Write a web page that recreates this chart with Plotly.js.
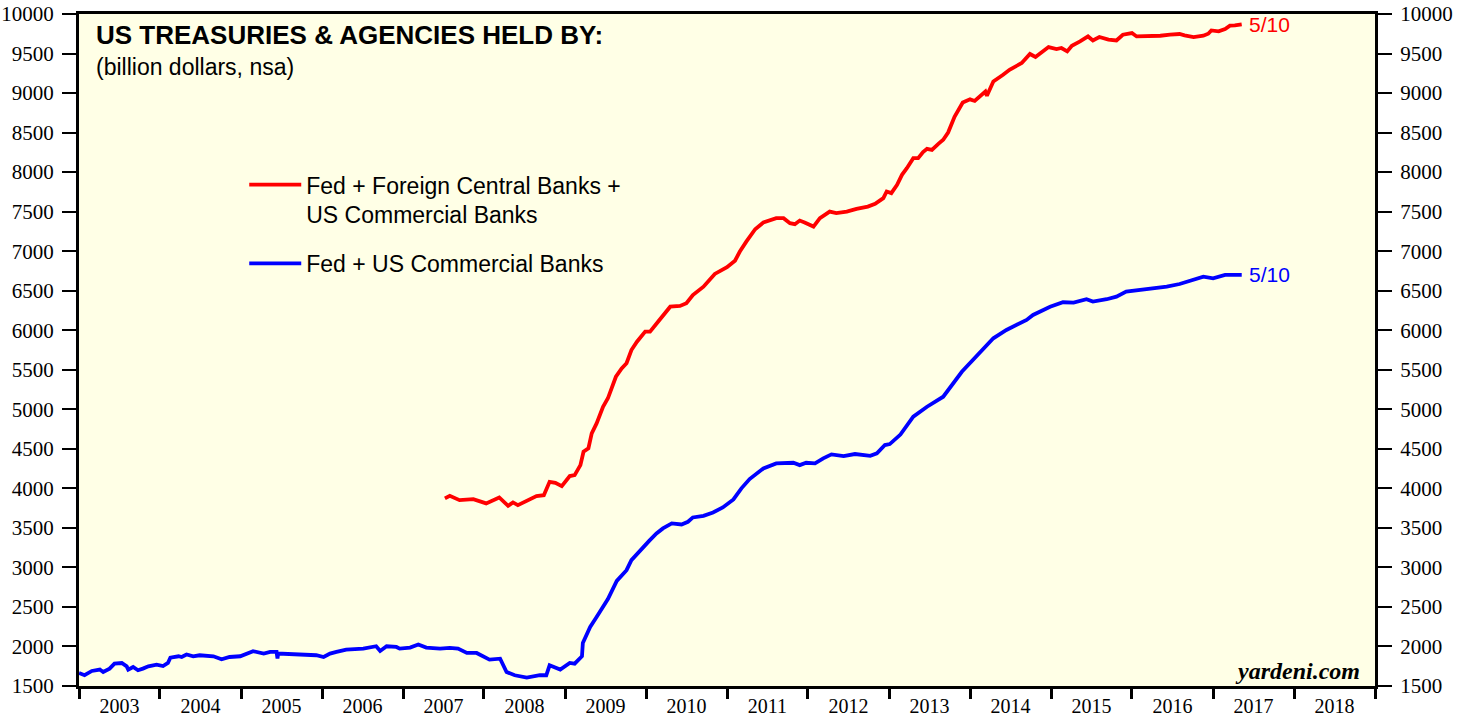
<!DOCTYPE html>
<html>
<head>
<meta charset="utf-8">
<script src="https://cdn.plot.ly/plotly-3.0.1.min.js"></script>
<style>html,body{margin:0;padding:0;background:#fff;}#chart{width:1468px;height:715px;}</style>
</head>
<body>
<div id="chart"></div>
<script>
// Decimal-year time stamps and values (billion dollars)
const redYears = [2007.52,2007.58,2007.70,2007.87,2008.03,2008.19,2008.30,2008.36,2008.42,2008.53,2008.65,2008.74,2008.81,2008.88,2008.96,2009.06,2009.12,2009.19,2009.23,2009.29,2009.33,2009.39,2009.47,2009.53,2009.63,2009.70,2009.76,2009.82,2009.89,2009.99,2010.05,2010.15,2010.30,2010.42,2010.50,2010.58,2010.71,2010.85,2011.00,2011.10,2011.16,2011.24,2011.35,2011.45,2011.61,2011.70,2011.78,2011.84,2011.90,2011.96,2012.07,2012.15,2012.27,2012.35,2012.48,2012.60,2012.74,2012.83,2012.93,2012.97,2013.03,2013.10,2013.16,2013.22,2013.30,2013.36,2013.42,2013.47,2013.53,2013.61,2013.67,2013.73,2013.81,2013.91,2014.00,2014.06,2014.12,2014.19,2014.21,2014.29,2014.41,2014.49,2014.64,2014.74,2014.81,2014.97,2015.07,2015.13,2015.20,2015.26,2015.36,2015.46,2015.52,2015.60,2015.71,2015.81,2015.89,2016.00,2016.06,2016.18,2016.35,2016.47,2016.59,2016.65,2016.76,2016.88,2016.94,2016.98,2017.07,2017.15,2017.21,2017.27,2017.356];
const redValues = [3873,3905,3851,3864,3810,3885,3779,3822,3788,3842,3902,3914,4083,4070,4028,4155,4167,4294,4463,4505,4695,4822,5032,5139,5412,5518,5582,5750,5855,5982,5982,6108,6298,6307,6341,6446,6551,6712,6797,6880,6995,7121,7278,7362,7417,7417,7354,7341,7387,7362,7311,7417,7501,7481,7501,7535,7564,7598,7671,7755,7734,7839,7966,8050,8177,8177,8253,8295,8282,8358,8409,8501,8700,8880,8920,8900,8949,9020,8966,9147,9232,9295,9380,9494,9456,9582,9557,9570,9527,9599,9653,9716,9666,9709,9675,9666,9738,9759,9716,9716,9725,9738,9747,9729,9709,9725,9751,9792,9780,9810,9852,9856,9869];

const blueYears = [2003.00,2003.07,2003.16,2003.26,2003.30,2003.38,2003.44,2003.53,2003.59,2003.61,2003.67,2003.73,2003.79,2003.86,2003.96,2004.04,2004.10,2004.13,2004.23,2004.27,2004.33,2004.41,2004.49,2004.66,2004.76,2004.86,2004.99,2005.15,2005.28,2005.36,2005.44,2005.45,2005.46,2005.65,2005.81,2005.93,2006.02,2006.10,2006.18,2006.30,2006.51,2006.67,2006.72,2006.80,2006.92,2006.96,2007.09,2007.19,2007.29,2007.46,2007.58,2007.68,2007.79,2007.91,2008.07,2008.20,2008.28,2008.38,2008.53,2008.69,2008.77,2008.81,2008.94,2009.06,2009.12,2009.21,2009.22,2009.31,2009.39,2009.47,2009.53,2009.64,2009.76,2009.82,2009.95,2010.04,2010.13,2010.21,2010.32,2010.44,2010.52,2010.58,2010.71,2010.83,2010.95,2011.08,2011.18,2011.28,2011.45,2011.61,2011.82,2011.90,2011.98,2012.09,2012.19,2012.29,2012.44,2012.58,2012.77,2012.85,2012.95,2013.01,2013.14,2013.30,2013.47,2013.67,2013.90,2014.00,2014.12,2014.29,2014.45,2014.58,2014.70,2014.78,2014.99,2015.15,2015.28,2015.44,2015.52,2015.69,2015.81,2015.93,2016.10,2016.26,2016.43,2016.59,2016.76,2016.88,2017.00,2017.15,2017.356];
const blueValues = [1664,1636,1690,1708,1677,1720,1783,1791,1749,1708,1741,1699,1720,1749,1771,1753,1791,1859,1876,1867,1898,1876,1889,1876,1838,1867,1876,1940,1910,1931,1931,1847,1910,1898,1898,1889,1867,1910,1931,1961,1973,2003,1943,2003,1994,1973,1986,2024,1986,1973,1981,1973,1918,1918,1833,1846,1677,1636,1606,1636,1636,1762,1708,1791,1783,1876,2045,2247,2374,2500,2600,2830,2965,3092,3240,3335,3429,3493,3556,3543,3577,3632,3653,3695,3759,3860,4000,4117,4252,4316,4324,4294,4324,4316,4379,4430,4408,4434,4412,4442,4548,4560,4680,4906,5032,5159,5475,5582,5708,5898,6003,6066,6130,6193,6298,6354,6349,6392,6362,6392,6425,6488,6510,6531,6551,6585,6636,6678,6657,6699,6699];

const seriesNames = ["Fed + Foreign Central Banks +<br>US Commercial Banks", "Fed + US Commercial Banks"];
const endLabel = "5/10";
const yTicks = [1500,2000,2500,3000,3500,4000,4500,5000,5500,6000,6500,7000,7500,8000,8500,9000,9500,10000];

function toDate(t){
  const y = Math.floor(t);
  const s = Date.UTC(y,0,1), e = Date.UTC(y+1,0,1);
  return new Date(s + (t-y)*(e-s)).toISOString().slice(0,10);
}
const redX = redYears.map(toDate);
const blueX = blueYears.map(toDate);

const serif = "Liberation Serif, Times New Roman, serif";
const sans = "Liberation Sans, Arial, Helvetica, sans-serif";

const traces = [
  {x: redX, y: redValues, type: "scatter", mode: "lines", name: seriesNames[0],
   line: {color: "#ff0000", width: 3.8}, legendgroup: "a", xaxis: "x", yaxis: "y"},
  {x: blueX, y: blueValues, type: "scatter", mode: "lines", name: seriesNames[1],
   line: {color: "#0000ff", width: 3.8}, legendgroup: "b", xaxis: "x2", yaxis: "y2"}
];

const xRange = ["2003-01-01", "2019-01-01"];
const yCommon = {
  range: [1500, 10000], tickvals: yTicks, ticktext: yTicks.map(String),
  ticks: "outside", ticklen: 14, tickwidth: 2, tickcolor: "#000", ticklabelstandoff: 4,
  showgrid: false, zeroline: false, showline: true, linecolor: "#000", linewidth: 3,
  tickfont: {family: serif, size: 21, color: "#000"}, fixedrange: true
};

const layout = {
  width: 1468, height: 715,
  margin: {l: 79, r: 93, t: 14, b: 29},
  paper_bgcolor: "#ffffff", plot_bgcolor: "#ffffe6",
  showlegend: true,
  legend: {x: 0.1275, y: 0.778, xanchor: "left", yanchor: "top", bgcolor: "rgba(0,0,0,0)",
    font: {family: sans, size: 23, color: "#000"}, valign: "top", tracegroupgap: 16,
    itemwidth: 52},
  xaxis: {type: "date", range: xRange, tick0: "2003-01-01", dtick: "M12",
    tickformat: "%Y", ticklabelmode: "period", ticks: "", ticklen: 0,
    showgrid: false, zeroline: false, showline: true, mirror: true, linecolor: "#000", linewidth: 3,
    tickfont: {family: serif, size: 20, color: "#000"}, fixedrange: true},
  xaxis2: {type: "date", range: xRange, tick0: "2003-01-01", dtick: "M12", overlaying: "x", anchor: "y",
    side: "bottom", ticks: "outside", ticklen: 12, tickwidth: 3, tickcolor: "#000", showticklabels: false,
    showgrid: false, zeroline: false, showline: false, fixedrange: true},
  yaxis: Object.assign({}, yCommon, {side: "left", mirror: true}),
  yaxis2: Object.assign({}, yCommon, {side: "right", overlaying: "y", anchor: "x"}),
  annotations: [
    {xref: "paper", yref: "paper", x: 0.0115, y: 0.969, xanchor: "left", yanchor: "middle", showarrow: false,
     text: "<b>US TREASURIES & AGENCIES HELD BY:</b>", font: {family: sans, size: 26, color: "#000"}},
    {xref: "paper", yref: "paper", x: 0.0115, y: 0.921, xanchor: "left", yanchor: "middle", showarrow: false,
     text: "(billion dollars, nsa)", font: {family: sans, size: 23, color: "#000"}},
    {xref: "x", yref: "y", x: redX[redX.length-1], y: redValues[redValues.length-1], xanchor: "left", yanchor: "middle",
     xshift: 5, showarrow: false, text: endLabel, font: {family: sans, size: 21, color: "#ff0000"}},
    {xref: "x", yref: "y", x: blueX[blueX.length-1], y: blueValues[blueValues.length-1], xanchor: "left", yanchor: "middle",
     xshift: 5, showarrow: false, text: endLabel, font: {family: sans, size: 21, color: "#0000ff"}},
    {xref: "paper", yref: "paper", x: 0.99, y: 0.022, xanchor: "right", yanchor: "middle", showarrow: false,
     text: "<b><i>yardeni.com</i></b>", font: {family: serif, size: 24, color: "#000"}}
  ]
};

Plotly.newPlot("chart", traces, layout, {displayModeBar: false, staticPlot: true});
</script>
</body>
</html>
